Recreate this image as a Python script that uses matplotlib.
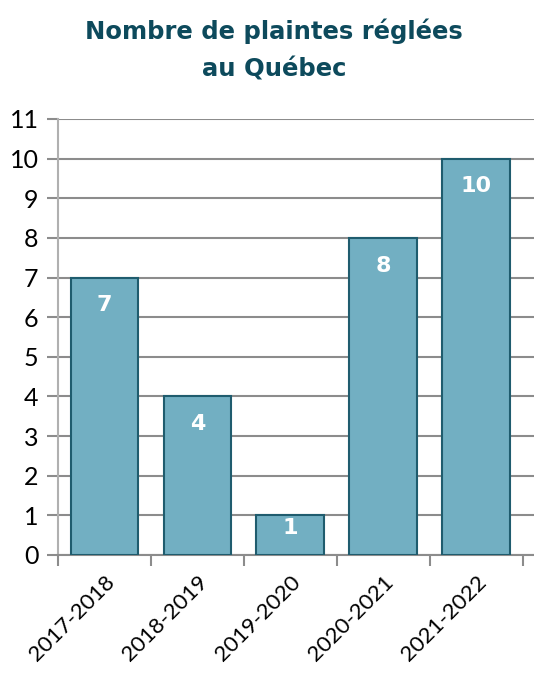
import numpy as np
import matplotlib
matplotlib.use('Agg')
import matplotlib.pyplot as plt

# chart data
years = ['2017-2018', '2018-2019', '2019-2020', '2020-2021', '2021-2022']
plaintes = [7, 4, 1, 8, 10]
y_ticks = list(range(0, 12))

plt.rcParams['font.family'] = ['Lato', 'DejaVu Sans']

fig = plt.figure(figsize=(5.34, 6.75), dpi=100)
ax = fig.add_axes([58 / 534, 1 - 555 / 675, (534 - 58) / 534, (555 - 119) / 675])

x = np.arange(len(years))
bars = ax.bar(x, plaintes, width=0.73, color='#72AFC2', edgecolor='#1F5C6E', linewidth=1.5, zorder=3)

# value labels just below the bar top, kept inside short bars
for xi, v in zip(x, plaintes):
    ax.text(xi, max(v - 0.7, 0.68 * v), str(v), ha='center', va='center', color='white',
            fontsize=16, fontweight='bold', family='DejaVu Sans', zorder=4)

ax.set_ylim(0, 11)
ax.set_xlim(-0.5, 4.62)
ax.set_yticks(y_ticks)
ax.set_yticklabels([str(t) for t in y_ticks], fontsize=18)
ax.yaxis.grid(True, color='#8C8C8C', linewidth=1.5, zorder=0)

# category labels at centres, tick marks at boundaries
ax.set_xticks(x)
ax.set_xticklabels(years, rotation=45, ha='right', rotation_mode='anchor', fontsize=16)
ax.tick_params(axis='x', length=0, pad=12)
ax.set_xticks(np.arange(-0.5, len(years), 1), minor=True)
ax.tick_params(axis='x', which='minor', length=8, width=1.5, color='#8C8C8C')
ax.tick_params(axis='y', length=8, width=1.5, color='#8C8C8C', pad=6)

for s in ['top', 'right']:
    ax.spines[s].set_visible(False)
ax.spines['left'].set_color('#B0B0B0')
ax.spines['left'].set_linewidth(1.5)
ax.spines['bottom'].set_color('#8C8C8C')
ax.spines['bottom'].set_linewidth(1.5)

title_kw = dict(ha='center', va='center', fontsize=17.5, fontweight='bold',
                color='#0D4A5C', family='DejaVu Sans')
fig.text(274 / 534, 1 - 31 / 675, 'Nombre de plaintes réglées', **title_kw)
fig.text(274 / 534, 1 - 70 / 675, 'au Québec', **title_kw)

fig.savefig('out.png', dpi=100)
